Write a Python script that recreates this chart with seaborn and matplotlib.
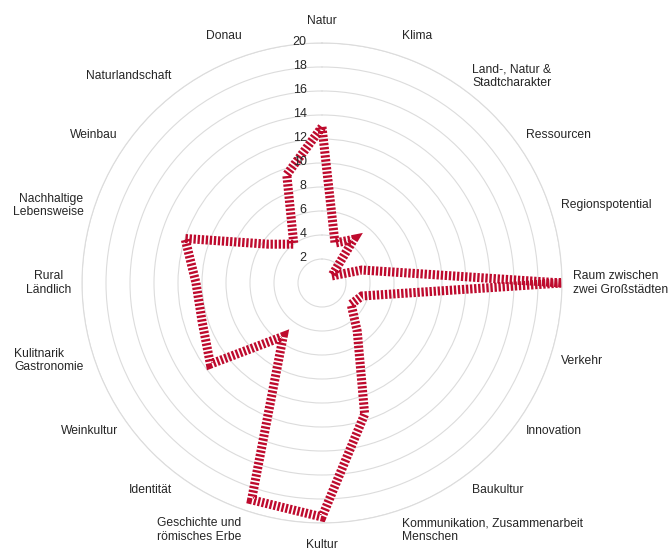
import numpy as np
import pandas as pd
import matplotlib
matplotlib.use("Agg")
import matplotlib.pyplot as plt
import seaborn as sns

# Categories clockwise from the top
categories = [
    "Natur", "Klima", "Land-, Natur &\nStadtcharakter", "Ressourcen",
    "Regionspotential", "Raum zwischen\nzwei Großstädten", "Verkehr",
    "Innovation", "Baukultur", "Kommunikation, Zusammenarbeit\nMenschen",
    "Kultur", "Geschichte und\nrömisches Erbe", "Identität", "Weinkultur",
    "Kulitnarik\nGastronomie", "Rural\nLändlich", "Nachhaltige\nLebensweise",
    "Weinbau", "Naturlandschaft", "Donau",
]
values = [13, 3.5, 4.5, 1, 3.5, 20, 3.5, 3, 5, 11.5,
          19.5, 19, 5.5, 11.5, 10.5, 10.5, 12, 5.5, 4, 9.5]
r_ticks = [2, 4, 6, 8, 10, 12, 14, 16, 18, 20]

red = "#BE0A2D"
grey = "#DCDCDC"
text_color = "#262626"

sns.set_theme(style="white")
plt.rcParams["font.family"] = ["Liberation Sans", "DejaVu Sans"]

angles = np.linspace(0, 2 * np.pi, len(categories), endpoint=False)
df = pd.DataFrame({
    "theta": np.append(angles, 2 * np.pi),
    "value": values + values[:1],
})

fig = plt.figure(figsize=(6.68, 5.51), dpi=100)
ax = fig.add_axes([82 / 668, 28 / 551, 480 / 668, 480 / 551], projection="polar")
ax.set_theta_zero_location("N")
ax.set_theta_direction(-1)

sns.lineplot(data=df, x="theta", y="value", ax=ax, sort=False, estimator=None,
             color=red, linewidth=6.5, linestyle=(0, (0.26, 0.19)),
             dash_joinstyle="miter", dash_capstyle="butt")

ax.set_ylim(0, 20)
ax.set_yticks(r_ticks)
ax.set_yticklabels([])
ax.set_xticks(angles)
ax.set_xticklabels([])
ax.xaxis.grid(False)
ax.yaxis.grid(True, color=grey, linewidth=0.8)
ax.spines["polar"].set_color(grey)
ax.spines["polar"].set_linewidth(0.8)
ax.set_xlabel("")
ax.set_ylabel("")

# radial tick labels, just left of the vertical axis
for t in r_ticks:
    ax.annotate(str(t), xy=(0, t), xytext=(-11, 1), textcoords="offset points",
                ha="right", va="center", fontsize=9, color=text_color,
                annotation_clip=False)

# category labels around the outside
multi_align = {"Kulitnarik\nGastronomie": "left", "Rural\nLändlich": "center",
               "Land-, Natur &\nStadtcharakter": "center",
               "Geschichte und\nrömisches Erbe": "center"}
for ang, lab in zip(angles, categories):
    s = np.sin(ang)
    if s > 0.05:
        ha = "left"
    elif s < -0.05:
        ha = "right"
    else:
        ha = "center"
    r = 20.9 + 0.9 * abs(np.cos(ang)) ** 4
    ax.text(ang, r, lab, ha=ha, va="center", fontsize=8.7, color=text_color,
            multialignment=multi_align.get(lab, ha))

fig.savefig("out.png", dpi=100)
